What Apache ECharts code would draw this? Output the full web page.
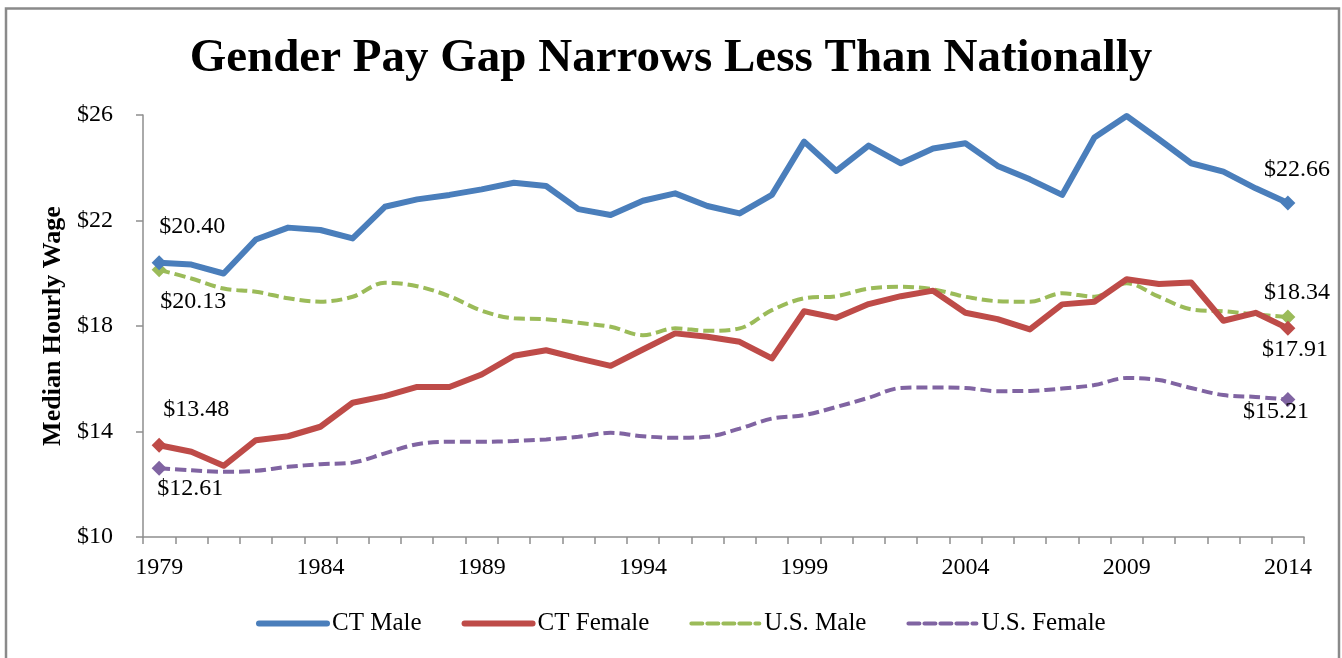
<!DOCTYPE html>
<html>
<head>
<meta charset="utf-8">
<title>Gender Pay Gap Narrows Less Than Nationally</title>
<script src="https://cdn.jsdelivr.net/npm/echarts@6/dist/echarts.min.js"></script>
<style>
  html, body { margin: 0; padding: 0; background: #fff; }
  #chart { width: 1342px; height: 658px; }
</style>
</head>
<body>
<div id="chart"></div>
<script>
// Median hourly wage, 1979-2014
const years = [
  '1979','1980','1981','1982','1983','1984','1985','1986','1987','1988','1989','1990',
  '1991','1992','1993','1994','1995','1996','1997','1998','1999','2000','2001','2002',
  '2003','2004','2005','2006','2007','2008','2009','2010','2011','2012','2013','2014'
];
const ctMale = [
  20.40, 20.33, 19.99, 21.28, 21.73, 21.64, 21.32, 22.52, 22.80, 22.97, 23.18, 23.43,
  23.31, 22.43, 22.21, 22.75, 23.03, 22.55, 22.27, 22.97, 24.99, 23.88, 24.84, 24.17,
  24.73, 24.93, 24.07, 23.56, 22.97, 25.15, 25.96, 25.08, 24.17, 23.85, 23.22, 22.66
];
const ctFemale = [
  13.48, 13.23, 12.70, 13.67, 13.82, 14.18, 15.09, 15.34, 15.69, 15.69, 16.16, 16.87,
  17.08, 16.77, 16.49, 17.11, 17.72, 17.59, 17.40, 16.77, 18.56, 18.31, 18.83, 19.13,
  19.34, 18.50, 18.26, 17.87, 18.82, 18.92, 19.77, 19.59, 19.65, 18.20, 18.50, 17.91
];
const usMale = [
  20.13, 19.80, 19.42, 19.30, 19.05, 18.92, 19.11, 19.64, 19.51, 19.13, 18.58, 18.29,
  18.26, 18.12, 17.97, 17.65, 17.91, 17.82, 17.91, 18.60, 19.05, 19.13, 19.42, 19.49,
  19.39, 19.11, 18.94, 18.92, 19.24, 19.11, 19.62, 19.11, 18.63, 18.56, 18.44, 18.34
];
const usFemale = [
  12.61, 12.53, 12.47, 12.51, 12.66, 12.76, 12.82, 13.17, 13.52, 13.61, 13.61, 13.64,
  13.70, 13.80, 13.95, 13.82, 13.76, 13.80, 14.11, 14.49, 14.62, 14.93, 15.28, 15.65,
  15.67, 15.65, 15.53, 15.54, 15.63, 15.76, 16.03, 15.95, 15.65, 15.38, 15.31, 15.21
];
const wageTicks = [10, 14, 18, 22, 26];

const serif = '"Liberation Serif", "DejaVu Serif", serif';
const axisGray = '#8e8e8e';

// Diamond marker and dollar label on the first and last point only
function withEndLabels(values, startOffset, endOffset) {
  const last = values.length - 1;
  return values.map((v, i) => {
    if (i !== 0 && i !== last) return { value: v };
    return {
      value: v,
      symbol: 'diamond',
      symbolSize: 15,
      label: {
        show: true,
        position: 'inside',
        align: 'left',
        verticalAlign: 'middle',
        offset: i === 0 ? startOffset : endOffset,
        color: '#000',
        fontFamily: serif,
        fontSize: 24,
        textBorderWidth: 0,
        formatter: p => '$' + p.value.toFixed(2)
      }
    };
  });
}

function lineSeries(name, values, color, dashed, startOffset, endOffset) {
  return {
    name: name,
    type: 'line',
    data: withEndLabels(values, startOffset, endOffset),
    symbol: 'none',
    showAllSymbol: true,
    smooth: dashed ? 0.34 : false,
    itemStyle: { color: color },
    lineStyle: dashed
      ? { color: color, width: 4, type: [11, 5] }
      : { color: color, width: 6, join: 'round', cap: 'round' },
    emphasis: { disabled: true },
    animation: false,
    z: dashed ? 2 : 3
  };
}

const chart = echarts.init(document.getElementById('chart'), null, { renderer: 'canvas' });
chart.setOption({
  backgroundColor: '#ffffff',
  animation: false,
  graphic: [{
    type: 'rect',
    shape: { x: 6, y: 8.5, width: 1333, height: 700 },
    style: { fill: 'none', stroke: '#8a8a8a', lineWidth: 2.5 },
    silent: true,
    z: -1
  }],
  title: {
    text: 'Gender Pay Gap Narrows Less Than Nationally',
    left: 'center',
    top: 30,
    textStyle: { fontFamily: serif, fontWeight: 'bold', fontSize: 47, color: '#000' }
  },
  legend: {
    left: 251,
    top: 606,
    itemWidth: 68,
    itemHeight: 14,
    itemGap: 40,
    textStyle: { fontFamily: serif, fontSize: 25, color: '#000' },
    lineStyle: { width: 'inherit', cap: 'round' },
    itemStyle: { opacity: 0, borderWidth: 0 },
    data: ['CT Male', 'CT Female', 'U.S. Male', 'U.S. Female']
  },
  grid: { left: 143, right: 38, top: 115, bottom: 121, containLabel: false },
  xAxis: {
    type: 'category',
    data: years,
    boundaryGap: true,
    axisLine: { lineStyle: { color: axisGray, width: 1.5 } },
    axisTick: { show: true, interval: 0, length: 7, lineStyle: { color: axisGray, width: 1.5 } },
    axisLabel: { interval: 4, margin: 19, fontFamily: serif, fontSize: 24, color: '#000' },
    splitLine: { show: false }
  },
  yAxis: {
    type: 'value',
    min: wageTicks[0],
    max: wageTicks[wageTicks.length - 1],
    name: 'Median Hourly Wage',
    nameLocation: 'middle',
    nameGap: 74,
    nameTextStyle: { fontFamily: serif, fontWeight: 'bold', fontSize: 26, color: '#000' },
    axisLine: { show: true, lineStyle: { color: axisGray, width: 1.5 } },
    axisTick: { show: true, length: 7, customValues: wageTicks, lineStyle: { color: axisGray, width: 1.5 } },
    axisLabel: {
      customValues: wageTicks,
      margin: 30,
      fontFamily: serif,
      fontSize: 24,
      color: '#000',
      formatter: v => '$' + v
    },
    splitLine: { show: false }
  },
  series: [
    lineSeries('CT Male', ctMale, '#4a7ebb', false, [0, -36], [-24, -33]),
    lineSeries('CT Female', ctFemale, '#be4b48', false, [4, -36], [-26, 21]),
    lineSeries('U.S. Male', usMale, '#9bbb59', true, [1, 32], [-24, -24]),
    lineSeries('U.S. Female', usFemale, '#8064a2', true, [-2, 21], [-45, 12])
  ]
});
</script>
</body>
</html>
